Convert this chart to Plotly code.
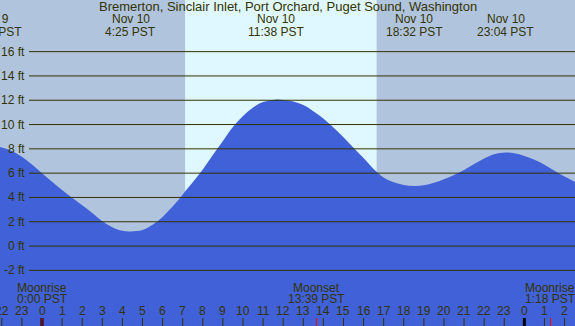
import plotly.graph_objects as go

TITLE = "Bremerton, Sinclair Inlet, Port Orchard, Puget Sound, Washington"

# Tide curve: hours from midnight Nov 10 (PST) and height in feet
tide_hours = [-3, -2.5, -2, -1.5, -1, -0.5, 0, 0.5, 1, 1.5, 2, 2.5, 3, 3.5, 4, 4.42,
              5, 5.5, 6, 6.5, 7, 7.5, 8, 8.5, 9, 9.5, 10, 10.5, 11, 11.63, 12, 12.5,
              13, 13.5, 14, 14.5, 15, 15.5, 16, 16.5, 17, 17.5, 18, 18.53, 19, 19.5,
              20, 20.5, 21, 21.5, 22, 22.5, 23.07, 23.5, 24, 24.5, 25, 25.5, 26, 26.5, 27]
tide_ft = [8.18, 8.25, 8.12, 7.82, 7.35, 6.72, 6.0, 5.3, 4.62, 3.97, 3.35, 2.72, 2.05, 1.55, 1.25, 1.2,
           1.32, 1.75, 2.4, 3.25, 4.25, 5.25, 6.3, 7.5, 8.65, 9.8, 10.7, 11.4, 11.85, 12.05, 12.02, 11.9,
           11.6, 11.1, 10.5, 9.75, 8.95, 8.1, 7.25, 6.35, 5.65, 5.25, 5.03, 4.95, 5.0, 5.2,
           5.5, 5.85, 6.25, 6.75, 7.2, 7.55, 7.7, 7.63, 7.42, 7.1, 6.7, 6.2, 5.72, 5.3, 4.9]

# High / low tide events
event_hours = [-2.42, 4.42, 11.63, 18.53, 23.07]
event_dates = ["Nov 9", "Nov 10", "Nov 10", "Nov 10", "Nov 10"]
event_times = ["21:35 PST", "4:25 PST", "11:38 PST", "18:32 PST", "23:04 PST"]

# Daylight
sunrise_hour = 7.12
sunset_hour = 16.65

# Moon events
moon_hours = [0.0, 13.65, 25.3]
moon_names = ["Moonrise", "Moonset", "Moonrise"]
moon_times = ["0:00 PST", "13:39 PST", "1:18 PST"]

# Axis ticks
hour_ticks = list(range(-2, 27))
hour_labels = [str(h % 24) for h in hour_ticks]
height_ticks = [-2, 0, 2, 4, 6, 8, 10, 12, 14, 16]
height_labels = [f"{v} ft" for v in height_ticks]

# ---------------- styling ----------------
W, H = 575, 326
X_RANGE = [-2.09, 26.52]
Y_RANGE = [-6.58, 20.25]
NIGHT = "#B0C4DE"
DAY = "#DFF8FF"
WATER = "#4161D8"
INK = "#333300"
FONT = "Liberation Sans, Arial, sans-serif"

def py(px):
    return 1 - px / H

fig = go.Figure()
fig.add_trace(go.Scatter(x=tide_hours, y=[Y_RANGE[0] - 5] * len(tide_hours),
                         mode="lines", line=dict(width=0), hoverinfo="skip", showlegend=False))
fig.add_trace(go.Scatter(x=tide_hours, y=tide_ft, mode="lines", fill="tonexty",
                         fillcolor=WATER, line=dict(width=0, color=WATER, shape="spline"),
                         hoverinfo="skip", showlegend=False))

shapes = []
shapes.append(dict(type="rect", xref="x", yref="paper", x0=sunrise_hour, x1=sunset_hour,
                   y0=0, y1=1, fillcolor=DAY, line=dict(width=0), layer="below"))
for v in height_ticks:
    shapes.append(dict(type="line", xref="paper", yref="y", x0=29 / W, x1=1, y0=v, y1=v,
                       line=dict(color=INK, width=1), layer="above"))
for h in hour_ticks:
    midnight = (h % 24 == 0)
    shapes.append(dict(type="line", xref="x", yref="paper", x0=h, x1=h, y0=0, y1=8 / H,
                       line=dict(color="#000000" if midnight else INK, width=3 if midnight else 1),
                       layer="above"))
for h in moon_hours:
    shapes.append(dict(type="line", xref="x", yref="paper", x0=h, x1=h, y0=0, y1=8 / H,
                       line=dict(color="#FF0000", width=1), layer="above"))

ann = []
f12 = dict(family=FONT, size=12, color=INK)
f13 = dict(family=FONT, size=13, color=INK)
ann.append(dict(text=TITLE, xref="paper", yref="paper", x=0.5, y=py(7.0), showarrow=False,
                xanchor="center", yanchor="middle", font=f13))
x_span = X_RANGE[1] - X_RANGE[0]
for t, d, s in zip(event_hours, event_dates, event_times):
    if X_RANGE[0] <= t <= X_RANGE[1]:
        xr, xv = "x", t
    else:
        xr, xv = "paper", (t - X_RANGE[0]) / x_span
    ann.append(dict(text=d, xref=xr, yref="paper", x=xv, y=py(19.5), showarrow=False,
                    xanchor="center", yanchor="middle", font=f12))
    ann.append(dict(text=s, xref=xr, yref="paper", x=xv, y=py(31.7), showarrow=False,
                    xanchor="center", yanchor="middle", font=f12))
for v, lab in zip(height_ticks, height_labels):
    ann.append(dict(text=lab, xref="paper", yref="y", x=26.5 / W, y=v, showarrow=False,
                    xanchor="right", yanchor="middle", font=f12))
for t, n, s in zip(moon_hours, moon_names, moon_times):
    ann.append(dict(text=n, xref="x", yref="paper", x=t, y=py(287.7), showarrow=False,
                    xanchor="center", yanchor="middle", font=f12))
    ann.append(dict(text=s, xref="x", yref="paper", x=t, y=py(299.3), showarrow=False,
                    xanchor="center", yanchor="middle", font=f12))
for h, lab in zip(hour_ticks, hour_labels):
    ann.append(dict(text=lab, xref="x", yref="paper", x=h, y=py(311), showarrow=False,
                    xanchor="center", yanchor="middle", font=f12))

fig.update_layout(
    width=W, height=H, margin=dict(l=0, r=0, t=0, b=0),
    paper_bgcolor=NIGHT, plot_bgcolor=NIGHT,
    xaxis=dict(range=X_RANGE, visible=False, fixedrange=True),
    yaxis=dict(range=Y_RANGE, visible=False, fixedrange=True),
    shapes=shapes, annotations=ann, showlegend=False,
)
fig.write_html("out.html", config={"displayModeBar": False},
               post_script="document.body.style.margin='0';document.body.style.overflow='hidden';")
